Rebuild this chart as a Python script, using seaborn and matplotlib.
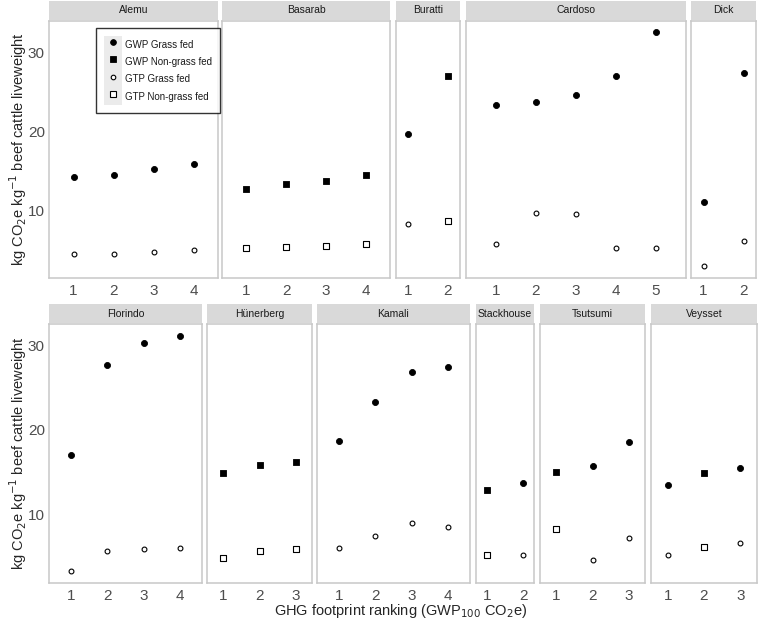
# GHG footprint by study: GWP vs GTP, grass fed vs non-grass fed
import matplotlib
matplotlib.use("Agg")
import matplotlib.pyplot as plt
from matplotlib.lines import Line2D
from matplotlib.patches import Patch, Rectangle
from matplotlib.legend_handler import HandlerTuple
import pandas as pd
import seaborn as sns

# ---- data ----
studies_top = ["Alemu", "Basarab", "Buratti", "Cardoso", "Dick"]
studies_bottom = ["Florindo", "Hünerberg", "Kamali", "Stackhouse", "Tsutsumi", "Veysset"]

gwp_values = {
    "Alemu": [14.3, 14.5, 15.3, 16.0],
    "Basarab": [12.8, 13.4, 13.8, 14.5],
    "Buratti": [19.8, 27.1],
    "Cardoso": [23.4, 23.8, 24.7, 27.1, 32.6],
    "Dick": [11.2, 27.5],
    "Florindo": [17.0, 27.6, 30.3, 31.1],
    "Hünerberg": [14.9, 15.8, 16.2],
    "Kamali": [18.7, 23.3, 26.8, 27.4],
    "Stackhouse": [12.9, 13.7],
    "Tsutsumi": [15.0, 15.7, 18.5],
    "Veysset": [13.5, 14.9, 15.5],
}
gtp_values = {
    "Alemu": [4.6, 4.5, 4.8, 5.0],
    "Basarab": [5.3, 5.5, 5.6, 5.8],
    "Buratti": [8.4, 8.7],
    "Cardoso": [5.8, 9.7, 9.6, 5.3, 5.3],
    "Dick": [3.0, 6.2],
    "Florindo": [3.3, 5.7, 5.9, 6.0],
    "Hünerberg": [4.9, 5.7, 5.9],
    "Kamali": [6.1, 7.5, 9.0, 8.5],
    "Stackhouse": [5.2, 5.2],
    "Tsutsumi": [8.3, 4.6, 7.2],
    "Veysset": [5.2, 6.2, 6.6],
}
# feeding system of each ranked system
feed_type = {
    "Alemu": ["Grass fed"] * 4,
    "Basarab": ["Non-grass fed"] * 4,
    "Buratti": ["Grass fed", "Non-grass fed"],
    "Cardoso": ["Grass fed"] * 5,
    "Dick": ["Grass fed"] * 2,
    "Florindo": ["Grass fed"] * 4,
    "Hünerberg": ["Non-grass fed"] * 3,
    "Kamali": ["Grass fed"] * 4,
    "Stackhouse": ["Non-grass fed", "Grass fed"],
    "Tsutsumi": ["Non-grass fed", "Grass fed", "Grass fed"],
    "Veysset": ["Grass fed", "Non-grass fed", "Grass fed"],
}

series_order = ["GWP Grass fed", "GWP Non-grass fed", "GTP Grass fed", "GTP Non-grass fed"]

rows = []
for study in studies_top + studies_bottom:
    for i, feed in enumerate(feed_type[study]):
        rows.append((study, i + 1, "GWP " + feed, gwp_values[study][i]))
        rows.append((study, i + 1, "GTP " + feed, gtp_values[study][i]))
df = pd.DataFrame(rows, columns=["study", "rank", "series", "value"])

# ---- styles ----
marker_style = {
    "GWP Grass fed": dict(marker="o", s=19, facecolor="black", edgecolor="black", linewidth=0.6),
    "GWP Non-grass fed": dict(marker="s", s=19, facecolor="black", edgecolor="black", linewidth=0.6),
    "GTP Grass fed": dict(marker="o", s=12, facecolor="white", edgecolor="black", linewidth=0.8),
    "GTP Non-grass fed": dict(marker="s", s=22, facecolor="white", edgecolor="black", linewidth=0.8),
}

sns.set_style("white")
plt.rcParams["font.family"] = ["Liberation Sans", "DejaVu Sans"]

W, H = 758, 622
fig = plt.figure(figsize=(W / 100, H / 100), dpi=100)

# panel layout in pixels: (x0, x1) per panel, (y_top, y_bottom) per row
layout = [
    dict(studies=studies_top, xs=[(49, 218), (222, 390), (396, 460), (466, 686), (691, 756)],
         y=(20.7, 278), strip=18.5, ppu=40.0),
    dict(studies=studies_bottom, xs=[(49, 202), (207, 312), (317, 470), (476, 534), (540, 645), (651, 757)],
         y=(324, 583), strip=18.5, ppu=36.3),
]

for row in layout:
    sub_row = df[df["study"].isin(row["studies"])]
    lo, hi = sub_row["value"].min(), sub_row["value"].max()
    pad = 0.05 * (hi - lo)
    y0, y1 = row["y"]
    for j, (study, (x0, x1)) in enumerate(zip(row["studies"], row["xs"])):
        ax = fig.add_axes([x0 / W, 1 - y1 / H, (x1 - x0) / W, (y1 - y0) / H])
        sub = df[df["study"] == study]
        for name in series_order:
            part = sub[sub["series"] == name]
            if len(part):
                sns.scatterplot(data=part, x="rank", y="value", ax=ax, legend=False,
                                zorder=3, **marker_style[name])
        n = sub["rank"].max()
        half = (x1 - x0) / row["ppu"] / 2
        ax.set_xlim((1 + n) / 2 - half, (1 + n) / 2 + half)
        ax.set_ylim(lo - pad, hi + pad)
        ax.set_xticks(range(1, n + 1))
        ax.set_yticks([10, 20, 30])
        ax.set_xlabel("")
        ax.set_ylabel("")
        ax.tick_params(length=0, labelsize=11, colors="#4D4D4D", pad=3)
        ax.tick_params(axis="x", pad=4.5)
        if j > 0:
            ax.set_yticklabels([])
        for sp in ax.spines.values():
            sp.set_color("#C8C8C8")
            sp.set_linewidth(1.1)
        # facet strip
        sh = row["strip"] / (y1 - y0)
        ax.add_patch(Rectangle((0, 1.004), 1, sh, transform=ax.transAxes, clip_on=False,
                               facecolor="#D9D9D9", edgecolor="none"))
        ax.text(0.5, 1.004 + sh / 2, study, transform=ax.transAxes, ha="center", va="center",
                fontsize=7.5, color="#1A1A1A")

ylab = r"kg CO$_2$e kg$^{-1}$ beef cattle liveweight"
for row in layout:
    yc = (row["y"][0] + row["y"][1]) / 2
    fig.text(18 / W, 1 - yc / H, ylab, rotation=90, ha="center", va="center", fontsize=10.5)

fig.text(401 / W, 1 - 611 / H, r"GHG footprint ranking (GWP$_{100}$ CO$_2$e)",
         ha="center", va="center", fontsize=10.5)

# legend inside the first panel (grey key background + marker)
handles = []
for name in series_order:
    st = marker_style[name]
    mk = Line2D([], [], linestyle="none", marker=st["marker"],
                markersize=(st["s"] ** 0.5) * 0.95, markerfacecolor=st["facecolor"],
                markeredgecolor=st["edgecolor"], markeredgewidth=st["linewidth"])
    handles.append((Patch(facecolor="#EBEBEB", edgecolor="none"), mk))
leg = fig.legend(handles, series_order, handler_map={tuple: HandlerTuple(ndivide=1, pad=0)},
                 loc="upper left", bbox_to_anchor=(96 / W, 1 - 28 / H), fontsize=7,
                 frameon=True, fancybox=False, edgecolor="black", handlelength=1.8,
                 handleheight=2.35, labelspacing=0.0, handletextpad=0.3, borderpad=0.85,
                 borderaxespad=0)
leg.get_frame().set_linewidth(1.0)
for t in leg.get_texts():
    t.set_color("#1A1A1A")

plt.savefig("out.png", dpi=100)
